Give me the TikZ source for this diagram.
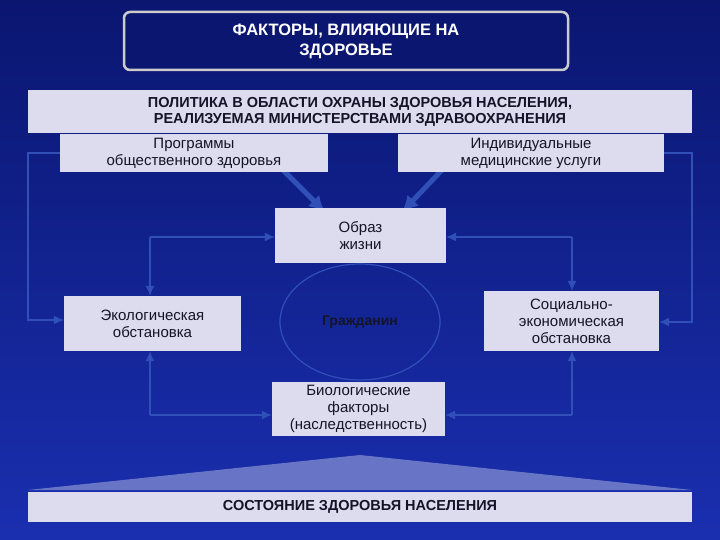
\documentclass[tikz,border=0pt]{standalone}
\usepackage{fontspec}
\setmainfont{Liberation Sans}
\usetikzlibrary{arrows.meta}
\definecolor{bgA}{HTML}{0A1670}
\definecolor{bgB}{HTML}{1A2FB0}
\definecolor{boxf}{HTML}{DCDCEE}
\definecolor{lnc}{HTML}{3050B8}
\definecolor{txt}{HTML}{141428}
\tikzset{
 box/.style={fill=boxf,draw=none,text=txt,align=center,inner sep=0pt,font=\fontsize{15}{17}\selectfont},
 thin/.style={draw=lnc,line width=1.2pt,-{Latex[length=10pt,width=9pt]}},
 thick/.style={draw=lnc,line width=5pt,-{Latex[length=16pt,width=16pt]}}
}
\begin{document}
\begin{tikzpicture}[x=1pt,y=-1pt]
\useasboundingbox (0,0) rectangle (720,540);
\shade[top color=bgA,bottom color=bgB] (0,0) rectangle (720,540);
\node[draw=gray!40,line width=2.5pt,fill=bgA,rounded corners=6pt,minimum width=444pt,minimum height=58pt,text=white,align=center,font=\bfseries\fontsize{16.5}{20}\selectfont] (title) at (346,41) {ФАКТОРЫ, ВЛИЯЮЩИЕ НА\\ЗДОРОВЬЕ};
\draw[thick] (283,170) -- (325,212);
\draw[thick] (442,170) -- (402,212);
\node[box,minimum width=664pt,minimum height=43pt,font=\bfseries\fontsize{14.5}{16}\selectfont] (pol) at (360,111.5) {ПОЛИТИКА В ОБЛАСТИ ОХРАНЫ ЗДОРОВЬЯ НАСЕЛЕНИЯ,\\РЕАЛИЗУЕМАЯ МИНИСТЕРСТВАМИ ЗДРАВООХРАНЕНИЯ};
\node[box,minimum width=268pt,minimum height=38pt] (prog) at (194,153) {Программы\\общественного здоровья};
\node[box,minimum width=266pt,minimum height=38pt] (ind) at (531,153) {Индивидуальные\\медицинские услуги};
\node[box,minimum width=171pt,minimum height=55pt] (obr) at (360.5,235.5) {Образ\\жизни};
\node[box,minimum width=177pt,minimum height=55pt] (eco) at (152.5,323.5) {Экологическая\\обстановка};
\node[box,minimum width=175pt,minimum height=60pt] (soc) at (571.5,321) {Социально-\\экономическая\\обстановка};
\node[box,minimum width=173pt,minimum height=54pt] (bio) at (358.5,409) {Биологические\\факторы\\(наследственность)};
\draw[lnc,line width=1.2pt] (360,322) ellipse (80pt and 58pt);
\node[font=\bfseries\fontsize{14}{16}\selectfont,text=txt] (cit) at (360,322) {Гражданин};
\draw[thin] (prog.west) -- (28,153) -- (28,320) -- (eco.west|-0,320);
\draw[thin] (ind.east) -- (692,153) -- (692,322) -- (soc.east|-0,322);
\coordinate (l1) at (150,237);
\coordinate (r1) at (572,237);
\coordinate (l2) at (150,415);
\coordinate (r2) at (572,415);
\draw[thin] (l1) -- (obr.west|-l1);
\draw[thin] (l1) -- (eco.north-|l1);
\draw[thin] (r1) -- (obr.east|-r1);
\draw[thin] (r1) -- (soc.north-|r1);
\draw[thin] (l2) -- (bio.west|-l2);
\draw[thin] (l2) -- (eco.south-|l2);
\draw[thin] (r2) -- (bio.east|-r2);
\draw[thin] (r2) -- (soc.south-|r2);
\fill[white,opacity=0.35] (28,490) -- (360,455) -- (692,490) -- cycle;
\node[box,minimum width=664pt,minimum height=30pt,font=\bfseries\fontsize{14.5}{16}\selectfont] (st) at (360,507) {СОСТОЯНИЕ ЗДОРОВЬЯ НАСЕЛЕНИЯ};
\end{tikzpicture}
\end{document}
